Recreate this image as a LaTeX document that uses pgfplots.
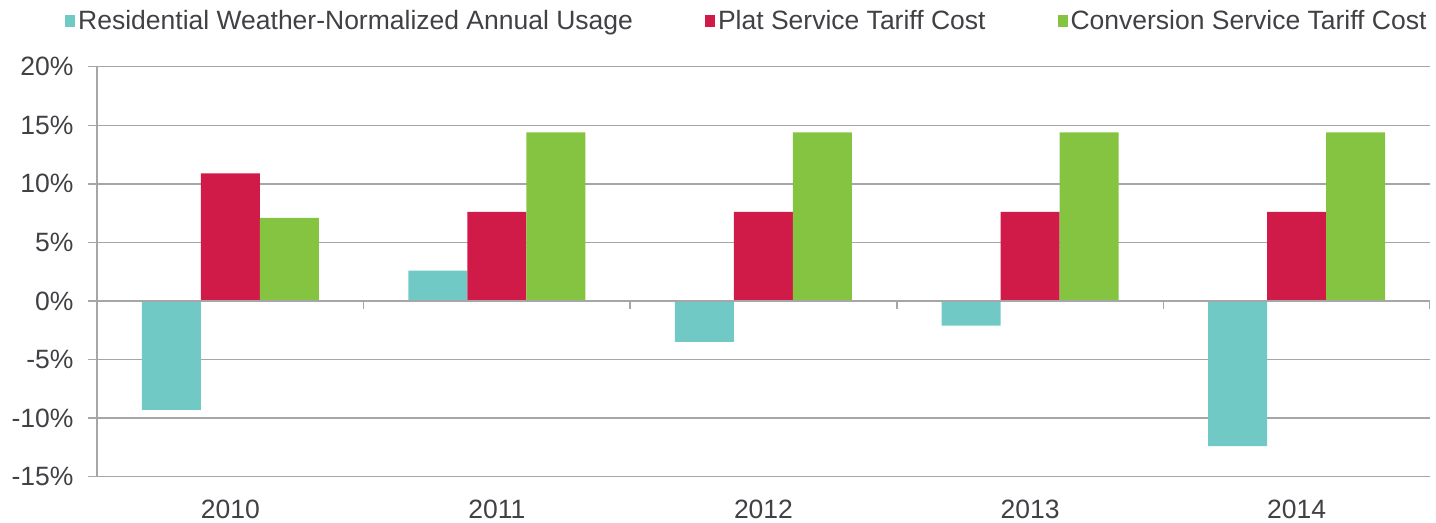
\documentclass[border=0pt]{standalone}
\usepackage{pgfplots}
\pgfplotsset{compat=1.18}
\usepackage{fontspec}
\setmainfont{Liberation Sans}
\definecolor{cteal}{HTML}{71C9C5}
\definecolor{cred}{HTML}{D01A47}
\definecolor{cgreen}{HTML}{84C441}
\definecolor{gridgray}{HTML}{A6A6A6}
\definecolor{txtgray}{HTML}{404045}
\begin{document}
\begin{tikzpicture}
\begin{axis}[
  name=ax,
  scale only axis,
  width=1333bp, height=410bp,
  xmin=-0.5, xmax=4.5,
  ymin=-15, ymax=20,
  ybar=0pt, bar width=59bp,
  xtick={0,1,2,3,4},
  xticklabels={2010,2011,2012,2013,2014},
  ytick={-15,-10,-5,0,5,10,15,20},
  yticklabel={\pgfmathprintnumber{\tick}\%},
  /pgf/number format/assume math mode=true,
  axis x line*=bottom, axis y line*=left,
  axis line style={draw=gridgray, line width=1.5bp, -},
  x axis line style={draw=none},
  xtick style={draw=none},
  ytick style={draw=gridgray, line width=1.5bp},
  tick align=outside,
  major tick length=9bp,
  ymajorgrids,
  grid style={draw=gridgray, line width=1.5bp},
  tick label style={font=\fontsize{26.5bp}{30bp}\selectfont, text=txtgray},
  xticklabel style={yshift=-11bp},
  yticklabel style={xshift=-11bp},
  legend style={draw=none, fill=none, at={(-0.024,1.112)}, anchor=west,
    inner sep=0pt, font=\fontsize{26.5bp}{30bp}\selectfont, text=txtgray,
    /tikz/every even column/.append style={column sep=69bp},
    nodes={inner xsep=3bp}},
  legend columns=3,
  legend image code/.code={\fill[#1] (0bp,-6bp) rectangle (10bp,6bp);},
]
\addplot[fill=cteal, draw=none] coordinates {(0,-9.3) (1,2.6) (2,-3.5) (3,-2.1) (4,-12.4)};
\addlegendentry{Residential Weather-Normalized Annual Usage}
\addplot[fill=cred, draw=none] coordinates {(0,10.9) (1,7.6) (2,7.6) (3,7.6) (4,7.6)};
\addlegendentry{Plat Service Tariff Cost}
\addplot[fill=cgreen, draw=none] coordinates {(0,7.1) (1,14.4) (2,14.4) (3,14.4) (4,14.4)};
\addlegendentry{Conversion Service Tariff Cost}
\draw[gridgray, line width=1.5bp] (axis cs:-0.5,0) -- (axis cs:4.5,0);
\draw[gridgray, line width=1.5bp]
  (axis cs:0.5,0) -- (axis cs:0.5,-0.68)
  (axis cs:1.5,0) -- (axis cs:1.5,-0.68)
  (axis cs:2.5,0) -- (axis cs:2.5,-0.68)
  (axis cs:3.5,0) -- (axis cs:3.5,-0.68)
  (axis cs:4.5,0) -- (axis cs:4.5,-0.68);
\end{axis}
\path ([shift={(-97bp,-44.3bp)}]ax.south west) rectangle ([shift={(1339bp,476.7bp)}]ax.south west);
\end{tikzpicture}
\end{document}
